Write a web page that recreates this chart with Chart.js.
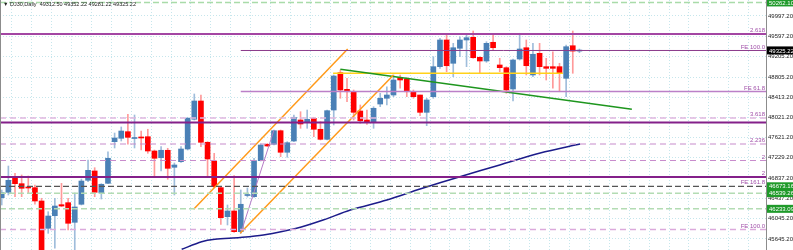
<!DOCTYPE html>
<html>
<head>
<meta charset="utf-8">
<script src="https://cdn.jsdelivr.net/npm/chart.js@4.4.1/dist/chart.umd.min.js"></script>
<style>
  html, body { margin: 0; padding: 0; background: #fff; }
  #wrap { width: 793px; height: 250px; }
</style>
</head>
<body>
<div id="wrap"><canvas id="chart"></canvas></div>
<script>
// DJ30 daily candles (index = bar number)
const opens  = [46450,46556,46841,46724,46659,46646,46386,45853,46099,46314,46353,45970,46322,46790,46972,46542,46731,47544,47610,47739,47606,47629,47641,47362,47231,47376,47044,47153,47401,47981,48338,47532,47167,46646,46080,46191,45787,46493,46470,47173,47493,47493,47758,47337,47557,47967,47922,48000,47786,47590,48162,48890,48566,48519,48143,47967,47934,48279,48391,48455,48793,48767,48519,48455,48117,48422,49008,49529,49074,49367,49529,49581,49191,49119,49484,49041,48988,48572,49158,49378,48846,49269,49008,49008,49008,48781,49417,49312.50];
const highs  = [46601,47069,46927,46894,46874,46698,46439,46177,46439,46731,46439,46542,46815,47186,47036,46724,47348,47713,47831,48078,48065,47752,47786,47381,47446,47415,47128,47446,48020,48475,48455,47544,47317,46665,46308,46880,46601,46640,47220,47499,47508,47772,47772,47544,48065,48129,48162,48020,47934,48162,48846,48943,48781,48553,48260,48162,48227,48488,48617,48846,48846,48793,48553,48455,48391,49203,49562,49626,49464,49593,49626,49704,49203,49495,49626,49171,49008,49158,49660,49529,49464,49464,49171,49300,49074,49431,49704,49352.22];
const lows   = [46308,46503,46470,46470,46542,46322,45195,45755,45463,46275,45820,45390,46308,46763,46470,46425,46724,47421,47557,47493,47421,47381,47317,46880,46972,46810,46503,47141,47381,47967,47446,46860,46646,45931,45918,45775,45755,46464,46458,47167,47450,47479,47251,47239,47544,47805,47805,47641,47577,47577,47870,48391,48324,47967,47903,47883,47805,48227,48260,48422,48586,48422,48391,48051,47856,48391,48976,48910,48812,49203,49008,49171,48879,49093,49333,48910,48488,48338,49138,48846,48812,48846,48748,48586,48519,48422,48879,49281.22];
const closes = [46548,46790,46724,46634,46640,46386,45312,46093,46288,46288,45951,46269,46776,46985,46556,46712,47220,47616,47752,47629,47616,47616,47362,47220,47376,47024,47089,47401,48000,48338,47532,47206,46665,46060,46191,45787,46322,46503,47173,47479,47460,47758,47337,47524,48020,47889,47981,47786,47590,48149,48826,48553,48519,48117,47953,47934,48196,48391,48455,48748,48748,48519,48422,48117,48358,49008,49529,49027,49378,49529,49574,49183,49119,49464,49378,48988,48553,49138,49353,49027,49250,49008,48976,48976,48879,49398,49312.50,49325.22];

// price axis labels
const yTicks = [49997.20,49597.20,49205.20,48805.20,48413.20,48021.20,47621.20,47229.20,46837.20,46437.20,46045.20,45645.20];

// horizontal levels (fibo / expansion objects)
const levelPrices = [50262.10,49646,49324,48523,48006,47918,47499,47177,46854,46673.16,46539.26,46233.09,45830];
const levelNames  = ['','2.618','FE 100.0','FE 61.8','3.618','','2.236','2','2','FE 161.8','','','FE 100.0'];
const levelStart  = [null,null,36,36,null,null,null,null,null,null,null,null,null];

// drawn objects
const upperChannel = [{x: 28.9, y: 46224}, {x: 52.1, y: 49353}];
const lowerChannel = [{x: 35.9, y: 45755}, {x: 59.0, y: 48846}];
const trendLine    = [{x: 51.0, y: 48957}, {x: 94.9, y: 48176}];
const yellowLine   = [{x: 49.9, y: 48879}, {x: 84.5, y: 48879}];
const zigzag       = [{x: 36, y: 45755}, {x: 41, y: 47772}];
const maLine = [
  {x: 27.1, y: 45443}, {x: 30.1, y: 45591}, {x: 32.1, y: 45638}, {x: 35.9, y: 45673},
  {x: 39.4, y: 45722}, {x: 44.4, y: 45853}, {x: 48.4, y: 46015}, {x: 52.5, y: 46210},
  {x: 58.0, y: 46405}, {x: 63.0, y: 46620}, {x: 69.0, y: 46860}, {x: 75.0, y: 47089},
  {x: 81.1, y: 47323}, {x: 87.1, y: 47499}
];

// boxes on the price scale
const axisBoxes = [
  {value: 50262.10, bg: '#1f9a2a'},
  {value: 49325.22, bg: '#000000'},
  {value: 46673.16, bg: '#1f9a2a'},
  {value: 46539.26, bg: '#1f9a2a'},
  {value: 46233.09, bg: '#1f9a2a'}
];

const X_MIN = -0.26, X_MAX = 115.1;
const gridX = [];
for (let i = 3; i < X_MAX; i += 3) gridX.push(i);

const levelStyles = [
  {color: '#a9dba9', width: 1.5, dash: [6, 3]},
  {color: '#a346a3', width: 2, dash: []},
  {color: '#8b3b8b', width: 1, dash: []},
  {color: '#bb80c8', width: 1.5, dash: []},
  {color: '#e0b6e0', width: 1.5, dash: [6, 4]},
  {color: '#84208a', width: 2, dash: []},
  {color: '#c88ccc', width: 1.2, dash: [6, 4]},
  {color: '#c88ccc', width: 1.2, dash: [6, 4]},
  {color: '#84208a', width: 2, dash: []},
  {color: '#555555', width: 1.2, dash: [6, 3]},
  {color: '#b3dcb3', width: 1.5, dash: [6, 3]},
  {color: '#b3dcb3', width: 1.5, dash: [6, 3]},
  {color: '#dcaadc', width: 1.5, dash: [6, 4]}
];

const bull = closes.map((c, i) => c >= opens[i]);
const bodies = opens.map((o, i) => ({x: i, y: [o, closes[i]]}));
const wicks = lows.map((l, i) => ({x: i, y: [l, highs[i]]}));

const lineSet = (data, color, width, dash) => ({
  type: 'line', data: data, borderColor: color, borderWidth: width,
  borderDash: dash || [], pointRadius: 0, fill: false, order: 1
});

const datasets = [
  {
    type: 'bar', data: wicks, barThickness: 1, grouped: false, order: 5,
    backgroundColor: bull.map(b => b ? '#9fbddb' : '#ff9a9a')
  },
  {
    type: 'bar', data: bodies, barThickness: 5, grouped: false, order: 4, minBarLength: 1,
    backgroundColor: bull.map(b => b ? '#4a80b6' : '#ff0000')
  }
];

levelPrices.forEach((p, k) => {
  const s = levelStyles[k];
  const from = levelStart[k] === null ? X_MIN : levelStart[k];
  datasets.push(lineSet([{x: from, y: p}, {x: X_MAX, y: p}], s.color, s.width, s.dash));
});

datasets.push(lineSet(upperChannel, '#ff9a1a', 1.5));
datasets.push(lineSet(lowerChannel, '#ff9a1a', 1.5));
datasets.push(lineSet(trendLine, '#1e961e', 1.5));
datasets.push(lineSet(yellowLine, '#ffd21a', 1.5));
datasets.push(lineSet(zigzag, '#b57cc6', 1));
const ma = lineSet(maLine, '#1c1c8a', 1.5);
ma.tension = 0.3;
datasets.push(ma);

const overlay = {
  id: 'overlay',
  afterDraw(chart) {
    const {ctx, chartArea} = chart;
    const y = chart.scales.y;
    ctx.save();

    // price scale border
    ctx.strokeStyle = '#8c8c8c';
    ctx.lineWidth = 1;
    ctx.beginPath();
    ctx.moveTo(chartArea.right + 0.5, 0);
    ctx.lineTo(chartArea.right + 0.5, chart.height);
    ctx.moveTo(0.5, 0);
    ctx.lineTo(0.5, chart.height);
    ctx.stroke();

    // level names above their lines
    ctx.font = '6px "Liberation Sans"';
    ctx.textAlign = 'right';
    ctx.textBaseline = 'bottom';
    ctx.fillStyle = '#a050a8';
    levelPrices.forEach((p, k) => {
      if (!levelNames[k]) return;
      ctx.fillText(levelNames[k], chartArea.right - 1, y.getPixelForValue(p) - 0.5);
    });

    // boxes on the price scale
    ctx.textAlign = 'left';
    ctx.textBaseline = 'middle';
    axisBoxes.forEach(b => {
      const py = y.getPixelForValue(b.value);
      ctx.fillStyle = b.bg;
      ctx.fillRect(chartArea.right + 1, py - 4, chart.width - chartArea.right - 1, 8);
      ctx.fillStyle = '#ffffff';
      ctx.fillText(b.value.toFixed(2), chartArea.right + 3, py + 0.5);
    });

    // header
    ctx.fillStyle = '#222';
    ctx.font = '5.5px "Liberation Sans"';
    ctx.fillText('\u25BC', 3, 4.5);
    ctx.fillText('DJ30,Daily  ' + [opens[87], highs[87], lows[87], closes[87]].map(v => v.toFixed(2)).join(' '), 10, 4.5);
    ctx.restore();
  }
};

new Chart(document.getElementById('chart'), {
  type: 'bar',
  data: {datasets: datasets},
  options: {
    responsive: true,
    maintainAspectRatio: false,
    animation: false,
    layout: {padding: 0},
    plugins: {legend: {display: false}, tooltip: {enabled: false}},
    scales: {
      x: {
        type: 'linear', min: X_MIN, max: X_MAX, offset: false,
        afterBuildTicks: s => { s.ticks = gridX.map(v => ({value: v})); },
        afterFit: s => { s.height = 0; s.paddingLeft = 0; s.paddingRight = 0; },
        ticks: {display: false},
        grid: {color: '#c6e6ec', drawTicks: false},
        border: {display: false, dash: [1, 2]}
      },
      y: {
        type: 'linear', position: 'right', min: 45429.5, max: 50309.5,
        afterBuildTicks: s => { s.ticks = yTicks.map(v => ({value: v})); },
        afterFit: s => { s.width = 27; s.paddingTop = 0; s.paddingBottom = 0; },
        ticks: {
          callback: v => v.toFixed(2), padding: 2, color: '#222',
          font: {family: 'Liberation Sans', size: 6}
        },
        grid: {color: '#c6e6ec', drawTicks: false},
        border: {display: false, dash: [1, 2]}
      }
    }
  },
  plugins: [overlay]
});
</script>
</body>
</html>
